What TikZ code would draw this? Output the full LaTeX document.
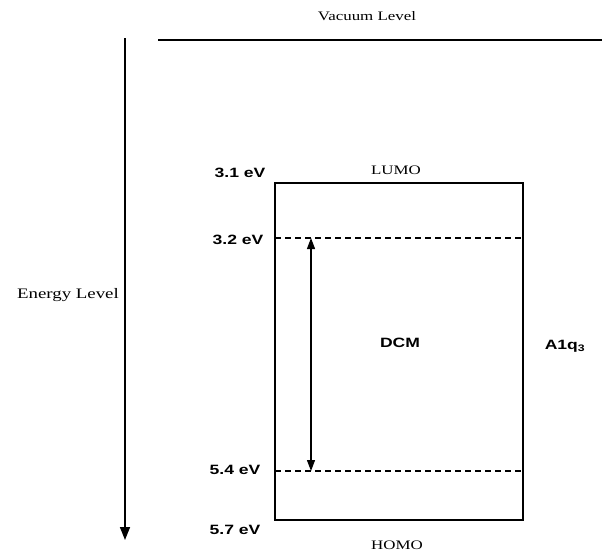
\documentclass[tikz,border=0pt]{standalone}
\usepackage{fontspec}
\setmainfont{Liberation Serif}
\newfontfamily\wideserif[FakeStretch=1.3]{Liberation Serif}
\newfontfamily\widesans[FakeStretch=1.3]{Liberation Sans}
\usetikzlibrary{arrows.meta, positioning, calc}

\begin{document}
\begin{tikzpicture}[
    x=1pt, y=-1pt,
    every node/.style={inner sep=0pt},
    level/.style={font=\wideserif\fontsize{13}{15}\selectfont},
    ev/.style={font=\widesans\bfseries\fontsize{13.5}{16}\selectfont},
    gap/.style={dash pattern=on 6pt off 4pt, line width=1.3pt}
]
    \useasboundingbox (0,0) rectangle (611,552);

    % Vacuum and energy axis
    \coordinate (vacL) at (158,40);
    \coordinate (vacR) at (602,40);
    \draw[line width=1.6pt] (vacL) -- (vacR);
    \node[level] (vac) at (367,16) {Vacuum Level};

    \coordinate (axTop) at (125,38);
    \coordinate (axBot) at (125,540);
    \draw[line width=1.5pt, -{Triangle[length=13pt, width=10pt]}] (axTop) -- (axBot);
    \node[level, font=\wideserif\fontsize{14.5}{16}\selectfont, anchor=east] (energy) at (119,295) {Energy Level};

    % Molecule box
    \node[draw, line width=1.3pt, minimum width=248pt, minimum height=337pt] (dcm) at (399,351.5) {};
    \node[ev] (dcmtext) at (400,343) {DCM};
    \node[ev] (a1q) at (565,346) {A1q\textsubscript{3}};
    \node[level] (lumo) at (396,170) {LUMO};
    \node[level] (homo) at (397,545) {HOMO};

    % Levels
    \coordinate (upL) at (275,238);
    \coordinate (upR) at (523,238);
    \coordinate (loL) at (275,471);
    \coordinate (loR) at (523,471);
    \draw[gap] (upL) -- (upR);
    \draw[gap] (loL) -- (loR);

    \coordinate (gapTop) at (311,238);
    \coordinate (gapBot) at (311,471);
    \draw[line width=1.2pt, {Triangle[length=11pt, width=8pt]}-{Triangle[length=11pt, width=8pt]}] (gapTop) -- (gapBot);

    % Values
    \node[ev] (e31) at (240,173) {3.1 eV};
    \node[ev] (e32) at (238,240) {3.2 eV};
    \node[ev] (e54) at (235,470) {5.4 eV};
    \node[ev] (e57) at (235,530) {5.7 eV};

\end{tikzpicture}
\end{document}
